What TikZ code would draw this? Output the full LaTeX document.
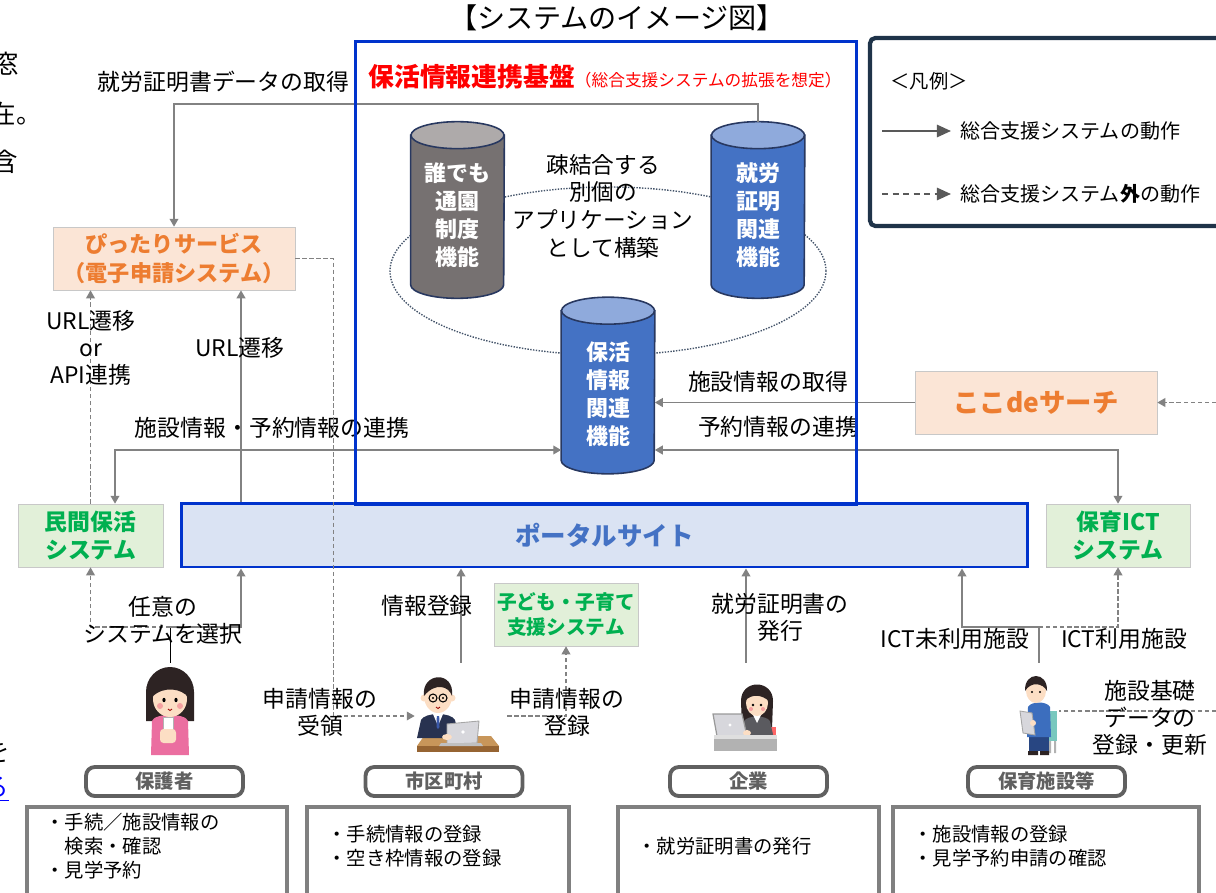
\documentclass[tikz,border=0pt]{standalone}
\usepackage{fontspec}
\setmainfont{Noto Sans CJK JP}
\usepackage{xcolor}
\usepackage{tikz}
\usetikzlibrary{arrows.meta}

\definecolor{frameblue}{RGB}{0,51,204}
\definecolor{portalfill}{RGB}{218,227,243}
\definecolor{portaltext}{RGB}{68,114,196}
\definecolor{orangefill}{RGB}{251,229,214}
\definecolor{orangetext}{RGB}{237,125,49}
\definecolor{greenfill}{RGB}{226,240,217}
\definecolor{greentext}{RGB}{0,176,80}
\definecolor{boxline}{RGB}{200,200,200}
\definecolor{linegray}{RGB}{130,130,130}
\definecolor{cylblue}{RGB}{68,114,196}
\definecolor{cylbluetop}{RGB}{143,170,220}
\definecolor{cylgray}{RGB}{118,113,113}
\definecolor{cylgraytop}{RGB}{174,170,170}
\definecolor{cylline}{RGB}{40,56,96}
\definecolor{ringline}{RGB}{68,84,106}
\definecolor{rolegray}{RGB}{96,96,96}
\definecolor{descgray}{RGB}{128,128,128}
\definecolor{legendline}{RGB}{31,51,73}
\definecolor{legendarrow}{RGB}{89,89,89}
\definecolor{skin}{RGB}{252,222,196}
\definecolor{cheek}{RGB}{245,160,160}
\definecolor{hairdark}{RGB}{45,35,35}
\definecolor{pinktop}{RGB}{235,110,160}
\definecolor{suit}{RGB}{40,50,80}
\definecolor{tie}{RGB}{60,90,170}
\definecolor{laptop}{RGB}{215,215,220}
\definecolor{desk}{RGB}{200,150,90}
\definecolor{deskdark}{RGB}{150,100,50}
\definecolor{graysuit}{RGB}{90,90,95}
\definecolor{shirtblue}{RGB}{60,110,190}
\definecolor{jeans}{RGB}{40,70,130}
\definecolor{chair}{RGB}{120,200,190}

\tikzset{
  arr/.style={draw=linegray, line width=0.8pt, -{Triangle[length=4.5pt,width=5pt]}},
  twoway/.style={arr, {Triangle[length=4.5pt,width=5pt]}-{Triangle[length=4.5pt,width=5pt]}},
  dasharr/.style={arr, line width=0.6pt, dash pattern=on 2.5pt off 1.5pt},
  dashline/.style={draw=linegray, line width=0.6pt, dash pattern=on 2.5pt off 1.5pt},
  legarr/.style={draw=legendarrow, line width=1.1pt, -{Triangle[length=8pt,width=7pt]}},
  lbl/.style={font=\fontsize{13}{15.5}\selectfont, align=center, inner sep=0pt},
  orangebox/.style={draw=boxline, fill=orangefill, text=orangetext, align=center,
    font=\bfseries\fontsize{12.6}{16}\selectfont, minimum width=4.84cm, minimum height=1.26cm, inner sep=0pt},
  greenbox/.style={draw=boxline, fill=greenfill, text=greentext, align=center,
    font=\bfseries\fontsize{13}{16}\selectfont, minimum height=1.26cm, inner sep=0pt},
  cylbody/.style={minimum width=1.86cm, minimum height=2.98cm, inner sep=0pt},
  cyltext/.style={text=white, font=\bfseries\fontsize{12.5}{15.9}\selectfont, align=center, inner sep=0pt},
  person/.style={minimum height=1.84cm, inner sep=0pt},
  rolebox/.style={draw=rolegray, line width=2.2pt, rounded corners=5pt, fill=white, text=rolegray,
    font=\bfseries\fontsize{11}{13}\selectfont, minimum width=3.14cm, minimum height=0.58cm, inner sep=0pt},
  descbox/.style={draw=descgray, line width=2.2pt, minimum height=1.96cm, inner sep=0pt},
  desc/.style={font=\fontsize{11}{13.7}\selectfont, align=left, inner sep=0pt, anchor=west},
  cutoff/.style={font=\fontsize{14.5}{17}\selectfont, anchor=east, inner sep=0pt},
}

\begin{document}
\begin{tikzpicture}[x=0.02cm, y=0.02cm]
\useasboundingbox (0,0) rectangle (1216,-892);
\clip (0,0) rectangle (1216,-892);

% text running in from the left margin
\node[cutoff] (frag1) at (19,-64) {窓};
\node[cutoff] (frag2) at (42,-114) {在。};
\node[cutoff] (frag3) at (18,-162) {含};
\node[cutoff] (frag4) at (10,-752) {を};
\node[cutoff, text=blue] (frag5) at (9,-789) {\underline{る}};

\node[font=\fontsize{16}{19}\selectfont, inner sep=0pt] (title) at (617,-18) {【システムのイメージ図】};

% loose coupling ring and the three function blocks
\draw[ringline, line width=0.8pt, dash pattern=on 0.8pt off 0.8pt] (608,-271) ellipse [x radius=218, y radius=84];
\node[cylbody] (daredemo) at (457.5,-210) {};
\node[cylbody] (shuro) at (758,-210) {};
\node[cylbody] (hokatsu) at (608,-385.5) {};
\foreach \c/\cbody/\ctop in {daredemo/cylgray/cylgraytop, shuro/cylblue/cylbluetop, hokatsu/cylblue/cylbluetop}{
  \filldraw[fill=\cbody, draw=cylline, line width=0.9pt] (\c.north west) -- (\c.south west)
    arc[start angle=180, end angle=360, x radius=46.5, y radius=13.5] -- (\c.north east) -- cycle;
  \filldraw[fill=\ctop, draw=cylline, line width=0.9pt] (\c.north) ellipse [x radius=46.5, y radius=13.5];
}
\node[cyltext] at ([yshift=-0.1cm]daredemo.center) {誰でも\\通園\\制度\\機能};
\node[cyltext] at ([yshift=-0.1cm]shuro.center) {就労\\証明\\関連\\機能};
\node[cyltext] at ([yshift=-0.17cm]hokatsu.center) {保活\\情報\\関連\\機能};
\node[lbl, font=\fontsize{12.9}{15.7}\selectfont] (sokketsu) at (603,-206) {疎結合する\\別個の\\アプリケーション\\として構築};

% systems around the platform
\node[orangebox] (pittari) at (174,-258.5) {ぴったりサービス\\（電子申請システム）};
\node[orangebox, font=\bfseries\fontsize{15}{18}\selectfont] (kokode) at (1036,-402.5) {ここdeサーチ};
\node[greenbox, minimum width=2.9cm] (minkan) at (90.5,-535.5) {民間保活\\システム};
\node[greenbox, minimum width=2.88cm] (hoikuict) at (1118,-535.5) {保育ICT\\システム};
\node[greenbox, minimum width=2.88cm, font=\bfseries\fontsize{11.2}{14}\selectfont] (kodomo) at (566,-614.5) {子ども・子育て\\支援システム};
\node[draw=frameblue, line width=1.7pt, fill=portalfill, text=portaltext, font=\bfseries\fontsize{14.5}{17}\selectfont,
  minimum width=16.94cm, minimum height=1.28cm, inner sep=0pt] (portal) at (604.5,-535) {ポータルサイト};

% users
\node[person, minimum width=1.12cm] (hogosha) at (170,-709) {};
\node[person, minimum width=1.84cm, minimum height=2.12cm] (shicho) at (461,-716) {};
\node[person, minimum width=1.28cm] (kigyo) at (746,-709) {};
\node[person, minimum width=0.8cm] (hoiku) at (1039,-709) {};

\begin{scope}[shift={(hogosha.center)}]
  \fill[hairdark] (-24,-12) -- (-24,17) arc[start angle=180, end angle=0, x radius=24, y radius=25] -- (24,-12) -- cycle;
  \fill[pinktop] (-19,-46) -- (-18,-12) .. controls (-16,-4) and (16,-4) .. (18,-12) -- (19,-46) -- cycle;
  \fill[skin] (0,10) ellipse [x radius=17, y radius=18];
  \fill[hairdark] (-18,12) .. controls (-19,34) and (19,34) .. (18,12) .. controls (12,20) and (-6,24) .. (-18,12) -- cycle;
  \fill[cheek] (-10,3) circle (3) (10,3) circle (3);
  \fill[black] (-6,9) ellipse [x radius=1.6, y radius=2.2] (6,9) ellipse [x radius=1.6, y radius=2.2];
  \draw[red!60!black, line width=0.5pt] (-2,0) .. controls (-1,-2) and (1,-2) .. (2,0);
  \filldraw[fill=white, draw=gray!60, line width=0.4pt] (-7,-8) rectangle (3,-32);
  \fill[skin, rounded corners=2pt] (-10,-20) rectangle (6,-34);
\end{scope}

\begin{scope}[shift={(shicho.center)}]
  \fill[desk] (-37,-20) -- (30,-20) -- (38,-30) -- (-44,-30) -- cycle;
  \fill[deskdark] (-44,-30) rectangle (38,-36);
  \fill[suit] (-44,-22) -- (-40,-4) .. controls (-36,4) and (-10,4) .. (-6,-4) -- (-2,-22) -- cycle;
  \fill[white] (-28,2) -- (-18,2) -- (-23,-10) -- cycle;
  \fill[tie] (-24.2,0) -- (-21.8,0) -- (-21.5,-11) -- (-23,-13) -- (-24.5,-11) -- cycle;
  \fill[skin] (-37,18) circle (3.5) (-9,18) circle (3.5);
  \fill[skin] (-23,20) ellipse [x radius=14, y radius=17];
  \fill[hairdark] (-37,20) .. controls (-40,44) and (-6,46) .. (-9,20) .. controls (-12,30) and (-26,34) .. (-37,20) -- cycle;
  \draw[black, line width=0.6pt] (-28,18) circle (4) (-18,18) circle (4);
  \fill[black] (-28,18) circle (1.2) (-18,18) circle (1.2);
  \draw[red!60!black, line width=0.5pt] (-25,9) .. controls (-24,7) and (-22,7) .. (-21,9);
  \filldraw[fill=laptop, draw=gray!70, line width=0.5pt] (-14,-8) -- (18,-5) -- (16,-27) -- (-14,-28) -- cycle;
  \fill[white] (2,-16) circle (1.8);
  \fill[skin] (-14,-21) ellipse [x radius=5, y radius=3];
  \fill[gray!50] (-20,-27) -- (20,-27) -- (22,-30) -- (-22,-30) -- cycle;
\end{scope}

\begin{scope}[shift={(kigyo.center)}]
  \fill[hairdark] (-4,-20) -- (-5,8) .. controls (-5,30) and (27,30) .. (27,8) -- (26,-20) -- cycle;
  \fill[red!60] (24,-18) rectangle (30,-30);
  \fill[graysuit] (-6,-30) -- (-2,-12) .. controls (2,-6) and (20,-6) .. (24,-12) -- (28,-30) -- cycle;
  \fill[white] (7,-6) -- (15,-6) -- (11,-14) -- cycle;
  \fill[skin] (11,6) ellipse [x radius=11, y radius=13];
  \fill[hairdark] (-1,8) .. controls (-1,24) and (23,24) .. (23,8) .. controls (16,14) and (6,16) .. (-1,8) -- cycle;
  \fill[black] (7,4) circle (1.3) (15,4) circle (1.3);
  \fill[cheek] (5,0) circle (2) (17,0) circle (2);
  \filldraw[fill=laptop, draw=gray!80, line width=0.7pt] (-33,-5) -- (-4,-5) -- (1,-27) -- (-29,-27) -- cycle;
  \fill[white] (-16,-16) circle (1.6);
  \fill[skin] (1,-24) ellipse [x radius=4, y radius=3];
  \fill[gray!25] (-32,-26) rectangle (31,-30);
  \fill[gray!60] (-32,-30) rectangle (31,-42);
\end{scope}

\begin{scope}[shift={(hoiku.center)}]
  \fill[chair] (8,-2) rectangle (18,-32);
  \fill[gray!60] (10,-32) rectangle (12,-44) (15,-32) rectangle (17,-44);
  \fill[jeans] (-10,-26) rectangle (10,-42);
  \fill[hairdark] (-11,-42) rectangle (-1,-46) (1,-42) rectangle (10,-46);
  \fill[shirtblue] (-12,-28) -- (-11,2) .. controls (-8,8) and (8,8) .. (11,2) -- (12,-28) -- cycle;
  \fill[skin] (-3,18) ellipse [x radius=10, y radius=12];
  \fill[hairdark] (-14,18) .. controls (-15,38) and (9,38) .. (8,18) .. controls (4,26) and (-8,28) .. (-14,18) -- cycle;
  \fill[black] (-7,17) circle (1.1) (1,17) circle (1.1);
  \filldraw[fill=laptop, draw=gray!70, line width=0.5pt] (-19,-2) -- (-7,-4) -- (-4,-26) -- (-16,-24) -- cycle;
  \fill[skin] (-6,-14) circle (3);
\end{scope}

% connectors
\coordinate (datacorner) at (758,-104);
\draw[arr] ([yshift=0.27cm]shuro.north) -- (datacorner) -| (pittari.north);
\node[lbl] (datalbl) at (223.5,-82) {就労証明書データの取得};

\draw[dasharr] (minkan.north) -- (minkan.north |- pittari.south);
\node[lbl] (apilbl) at (91,-348) {URL遷移\\or\\API連携};

\coordinate (sel) at (170,-627);
\coordinate (selright) at (241,-627);
\draw[arr] (selright |- portal.north) -- (selright |- pittari.south);
\node[lbl] (urllbl) at (240,-348) {URL遷移};

\coordinate (renkei) at (115,-450);
\draw[twoway] (renkei |- minkan.north) -- (renkei) -- (hokatsu.west |- renkei);
\node[lbl] (renkeilbl) at (272,-428) {施設情報・予約情報の連携};
\draw[twoway] (hokatsu.east |- renkei) -| (hoikuict.north);
\node[lbl] (yoyakulbl) at (778,-427) {予約情報の連携};

\draw[arr] (kokode.west) -- (kokode.west -| hokatsu.east);
\node[lbl] (shisetsulbl) at (768,-382) {施設情報の取得};
\coordinate (rightedge) at (1216,-402.5);
\draw[dasharr] (rightedge) -- (kokode.east);

\draw[dasharr] (pittari.east) -- ++(38,0) |- (shicho.west);
\node[lbl] (juryolbl) at (320,-712) {申請情報の\\受領};

\draw (hogosha.north) -- (sel);
\draw[arr] (sel) -- (selright) -- (selright |- portal.south);
\draw[dasharr] (sel) -| (minkan.south);
\node[lbl] (nin'ilbl) at (163,-620) {任意の\\システムを選択};

\draw[arr] (shicho.north) -- (shicho.north |- portal.south);
\node[lbl] (tourokulbl) at (427,-606) {情報登録};
\draw[dasharr] (shicho.east) -| (kodomo.south);
\node[lbl] (shinseilbl) at (567,-712) {申請情報の\\登録};

\draw[arr] (kigyo.north) -- (kigyo.north |- portal.south);
\node[lbl] (hakkolbl) at (780,-617) {就労証明書の\\発行};

\coordinate (ict) at (1039,-627);
\coordinate (ictleft) at (962,-627);
\draw[draw=linegray, line width=0.8pt] (hoiku.north) -- (ict);
\draw[arr] (ict) -- (ictleft) -- (ictleft |- portal.south);
\draw[dasharr] (ict) -| (hoikuict.south);
\node[lbl] (miriyolbl) at (955,-639) {ICT未利用施設};
\node[lbl] (riyolbl) at (1124,-639) {ICT利用施設};

\coordinate (rightedge2) at (1216,-711);
\draw[dashline] (rightedge2) -- (rightedge2 -| hoiku.east);
\node[lbl] (kisolbl) at (1150,-718) {施設基礎\\データの\\登録・更新};

% platform frame, drawn over the lines
\node[draw=frameblue, line width=1.7pt, minimum width=10.04cm, minimum height=9.28cm, inner sep=0pt] (kiban) at (606,-273) {};
\node[anchor=west, text=red, inner sep=0pt] (kibantitle) at (368,-77)
  {{\bfseries\fontsize{14.7}{17}\selectfont 保活情報連携基盤}{\fontsize{9.5}{11}\selectfont （総合支援システムの拡張を想定）}};

% roles and their tasks
\node[rolebox] (r1) at (164.5,-781.5) {保護者};
\node[rolebox] (r2) at (444,-781.5) {市区町村};
\node[rolebox] (r3) at (748.5,-781.5) {企業};
\node[rolebox] (r4) at (1046.5,-781.5) {保育施設等};

\node[descbox, minimum width=5.2cm] (b1) at (157,-856) {};
\node[descbox, minimum width=5.24cm] (b2) at (438,-856) {};
\node[descbox, minimum width=5.22cm] (b3) at (748.5,-856) {};
\node[descbox, minimum width=6.12cm] (b4) at (1046,-856) {};
\node[desc] (d1) at ([xshift=0.4cm,yshift=0.2cm]b1.west) {・手続／施設情報の\\　検索・確認\\・見学予約};
\node[desc] (d2) at ([xshift=0.44cm,yshift=0.2cm]b2.west) {・手続情報の登録\\・空き枠情報の登録};
\node[desc] (d3) at ([xshift=0.42cm,yshift=0.2cm]b3.west) {・就労証明書の発行};
\node[desc] (d4) at ([xshift=0.44cm,yshift=0.2cm]b4.west) {・施設情報の登録\\・見学予約申請の確認};

% legend
\node[draw=legendline, line width=2.4pt, rounded corners=3pt, minimum width=8cm, minimum height=3.76cm] (legend) at (1070,-132) {};
\node[anchor=west, inner sep=0pt, font=\fontsize{11}{13}\selectfont] (legtitle) at (890,-81) {＜凡例＞};
\node[anchor=west, inner sep=0pt, font=\fontsize{11.4}{13}\selectfont] (legsolid) at (960,-131) {総合支援システムの動作};
\node[anchor=west, inner sep=0pt, font=\fontsize{11.4}{13}\selectfont] (legdash) at (960,-194) {総合支援システム\textbf{外}の動作};
\draw[legarr] ([xshift=-1.56cm]legsolid.west) -- ([xshift=-0.18cm]legsolid.west);
\draw[legarr, dash pattern=on 3.5pt off 2.5pt] ([xshift=-1.56cm]legdash.west) -- ([xshift=-0.18cm]legdash.west);
\end{tikzpicture}
\end{document}
